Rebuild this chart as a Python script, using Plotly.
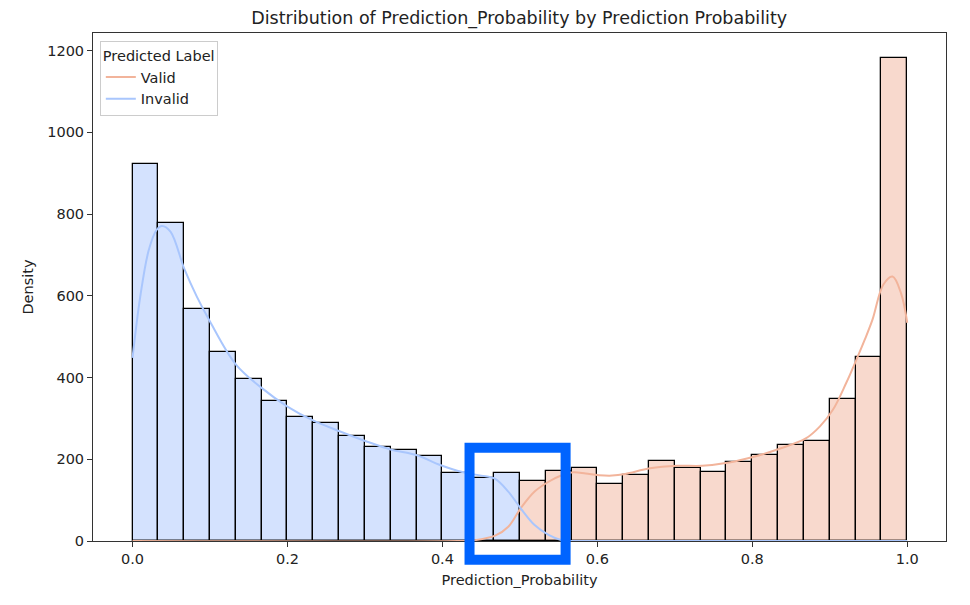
import numpy as np
import plotly.graph_objects as go

# histogram counts per bin (30 bins from 0 to 1)
bin_edges = np.linspace(0, 1, 31)
invalid_counts = [922, 779, 568, 462, 397, 342, 303, 288, 256, 231, 223, 207, 167, 153, 166,
                  0, 0, 0, 0, 0, 0, 0, 0, 0, 0, 0, 0, 0, 0, 0]
valid_counts = [0, 0, 0, 0, 0, 0, 0, 0, 0, 0, 0, 0, 0, 0, 0,
                146, 171, 178, 140, 161, 196, 179, 170, 194, 210, 234, 245, 347, 450, 1182]

# kde curves (scaled to counts)
invalid_kde_x = [0.0, 0.010, 0.021, 0.031, 0.038, 0.049, 0.067, 0.083, 0.1, 0.133, 0.167, 0.2,
                 0.233, 0.268, 0.303, 0.333, 0.367, 0.397, 0.427, 0.45, 0.468, 0.485, 0.501,
                 0.519, 0.537, 0.554, 0.57, 0.6, 1.0]
invalid_kde_y = [448, 598, 712, 761, 771, 757, 665, 598, 537, 433, 374, 329,
                 295, 268, 243, 224, 210, 186, 168, 160, 152, 121, 80,
                 39, 15, 2, 0, 0, 0]
valid_kde_x = [0.0, 0.42, 0.442, 0.468, 0.485, 0.501, 0.519, 0.537, 0.554, 0.569, 0.585, 0.602,
               0.619, 0.636, 0.668, 0.703, 0.735, 0.770, 0.802, 0.837, 0.869, 0.887, 0.904,
               0.921, 0.936, 0.945, 0.955, 0.969, 0.981, 0.992, 1.0]
valid_kde_y = [0, 0, 2, 13, 35, 80, 121, 145, 161, 168, 165, 161,
               160, 164, 178, 184, 184, 192, 206, 227, 251, 280, 321,
               386, 451, 492, 541, 627, 647, 606, 534]

# highlighted region (data units)
box_x = [0.435, 0.559]
box_y = [-46, 228]

x_range = [-0.051, 1.050]
y_range = [0, 1243]

blue = "#a9c6fd"
orange = "#f2b49b"

centers = (bin_edges[:-1] + bin_edges[1:]) / 2
width = bin_edges[1] - bin_edges[0]

fig = go.Figure()

fig.add_trace(go.Bar(x=centers, y=invalid_counts, width=width,
                     marker=dict(color="rgba(169,198,253,0.5)", line=dict(color="black", width=1.3)),
                     showlegend=False, hoverinfo="skip"))
fig.add_trace(go.Bar(x=centers, y=valid_counts, width=width,
                     marker=dict(color="rgba(242,180,155,0.5)", line=dict(color="black", width=1.3)),
                     showlegend=False, hoverinfo="skip"))

fig.add_trace(go.Scatter(x=valid_kde_x, y=valid_kde_y, mode="lines", name="Valid",
                         line=dict(color=orange, width=2, shape="spline")))
fig.add_trace(go.Scatter(x=invalid_kde_x, y=invalid_kde_y, mode="lines", name="Invalid",
                         line=dict(color=blue, width=2, shape="spline")))

# convert box to paper coords so it is not clipped
def to_px(v, r):
    return (v - r[0]) / (r[1] - r[0])

fig.add_shape(type="rect", xref="paper", yref="paper",
              x0=to_px(box_x[0], x_range), x1=to_px(box_x[1], x_range),
              y0=to_px(box_y[0], y_range), y1=to_px(box_y[1], y_range),
              line=dict(color="#0064ff", width=10), fillcolor="rgba(0,0,0,0)")

fig.update_layout(
    width=970, height=605,
    barmode="overlay", bargap=0,
    plot_bgcolor="white", paper_bgcolor="white",
    margin=dict(l=85, r=32, t=25, b=72),
    font=dict(family="DejaVu Sans", size=14.5, color="#222222"),
    title=dict(text="Distribution of Prediction_Probability by Prediction Probability",
               x=0.527, xanchor="center", y=0.983, yanchor="middle", font=dict(size=17.5)),
    legend=dict(title=dict(text="Predicted Label", font=dict(size=14.5)),
                x=0.008, y=0.984, xanchor="left", yanchor="top",
                bordercolor="#cccccc", borderwidth=1, bgcolor="white", font=dict(size=14.5),
                tracegroupgap=0),
)
fig.update_xaxes(range=x_range, tickvals=[0, 0.2, 0.4, 0.6, 0.8, 1.0], tickformat=".1f",
                 showline=True, linecolor="#333333", linewidth=1, mirror=True,
                 ticks="outside", ticklen=5, tickcolor="#333333", showgrid=False, zeroline=False,
                 title=dict(text="Prediction_Probability", standoff=8, font=dict(size=14.5)))
fig.update_yaxes(range=y_range, tickvals=[0, 200, 400, 600, 800, 1000, 1200],
                 showline=True, linecolor="#333333", linewidth=1, mirror=True,
                 ticks="outside", ticklen=5, tickcolor="#333333", showgrid=False, zeroline=False,
                 title=dict(text="Density", standoff=10, font=dict(size=14.5)))

fig.write_html("out.html")
